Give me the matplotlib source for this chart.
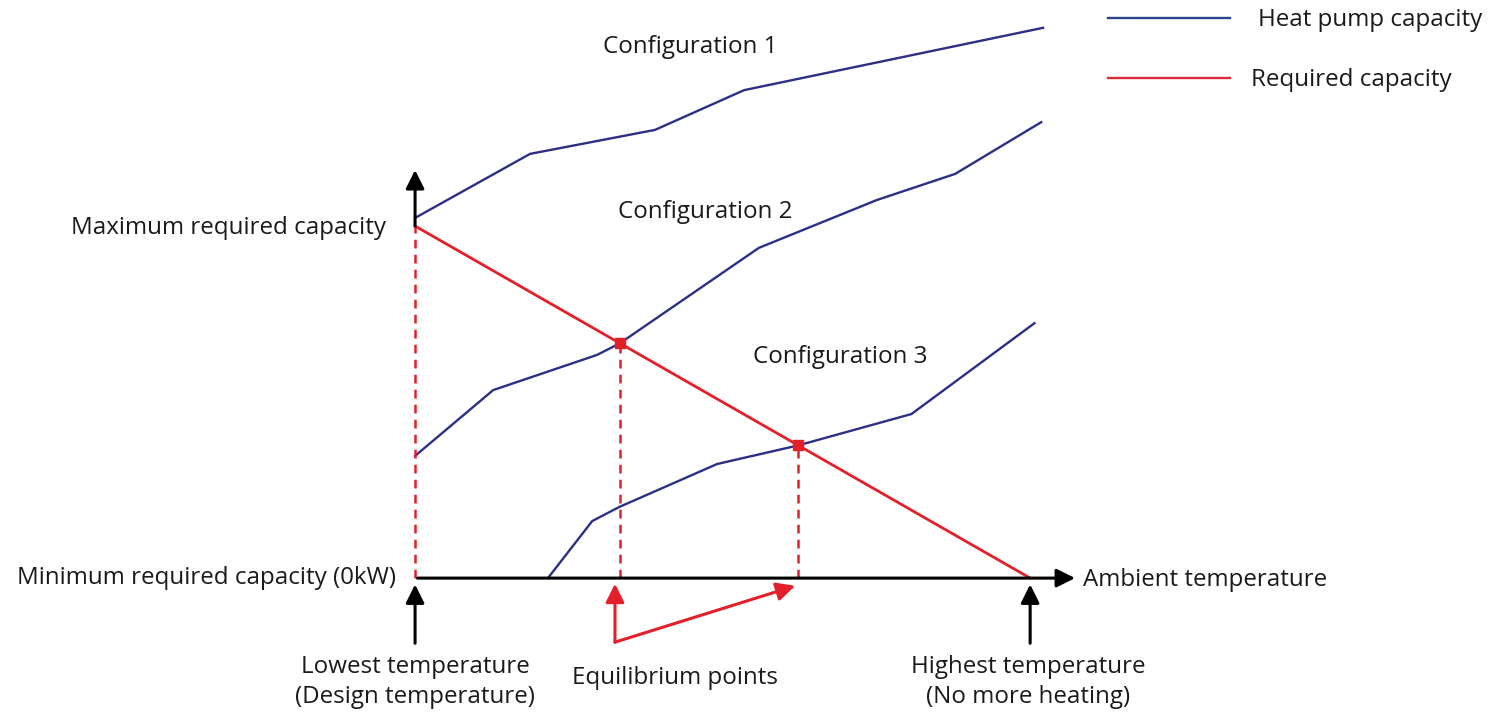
import matplotlib
matplotlib.use("Agg")
import matplotlib.pyplot as plt

# temperature axis: 0 = lowest (design) temp, 100 = highest temp (no heating)
# capacity axis: 0 = 0 kW, 100 = maximum required capacity
config1_t = [0, 18.7, 39.0, 53.5, 102.1]
config1_c = [102.3, 120.5, 127.3, 138.6, 156.3]

config2_t = [0, 12.7, 29.6, 33.3, 55.9, 75.1, 87.8, 101.8]
config2_c = [34.7, 53.4, 63.4, 66.7, 93.8, 107.4, 114.8, 129.5]

config3_t = [21.6, 28.8, 33.2, 49.1, 62.3, 80.7, 100.7]
config3_c = [0, 16.2, 20.2, 32.4, 37.7, 46.6, 72.4]

required_t = [0, 100]
required_c = [100, 0]

equilibrium_t = [33.3, 62.3]
equilibrium_c = [66.7, 37.7]

labels = ["Configuration 1", "Configuration 2", "Configuration 3"]
legend_labels = ["Heat pump capacity", "Required capacity"]

BLUE = "#2b2f86"
RED = "#e3202a"
FONT = "Open Sans"
FS = 17.4


def arrow(ax, start, end, color, lw=2.0, scale=28):
    ax.annotate("", xy=end, xytext=start,
                arrowprops=dict(arrowstyle="-|>", color=color, lw=lw,
                                mutation_scale=scale, shrinkA=0, shrinkB=0))


def label(ax, x, y, s, ha="center", **kw):
    ax.text(x, y, s, ha=ha, va="center", fontsize=FS, family=FONT,
            color="#1a1a1a", **kw)


def main():
    fig = plt.figure(figsize=(14.89, 7.14), dpi=100)
    ax = fig.add_axes([0, 0, 1, 1])
    ax.set_xlim(-67.48, 174.6)
    ax.set_ylim(-38.6, 164.2)
    ax.axis("off")

    # heat pump curves
    for t, c in [(config1_t, config1_c), (config2_t, config2_c), (config3_t, config3_c)]:
        ax.plot(t, c, color=BLUE, lw=1.7)

    # required capacity
    ax.plot(required_t, required_c, color=RED, lw=2.0)

    # dashed drop lines
    ax.plot([0, 0], [0, required_c[0]], color=RED, lw=1.8, ls=(0, (3.5, 2.5)))
    for t, c in zip(equilibrium_t, equilibrium_c):
        ax.plot([t, t], [0, c], color=RED, lw=1.8, ls=(0, (3.5, 2.5)))
    ax.plot(equilibrium_t, equilibrium_c, "s", color=RED, ms=7)

    # axes
    arrow(ax, (0.4, 0), (107.3, 0), "black", lw=2.2)
    arrow(ax, (0, required_c[0]), (0, 115.9), "black", lw=2.2)

    # temperature pointers
    arrow(ax, (0, -18.5), (0, -1.8), "black", lw=2.2)
    arrow(ax, (100, -18.5), (100, -1.8), "black", lw=2.2)

    # equilibrium pointers
    arrow(ax, (32.5, -18.2), (32.5, -1.6), RED, lw=2.2)
    arrow(ax, (32.5, -18.2), (61.8, -2.2), RED, lw=2.2)

    # text
    label(ax, 44.7, 150.9, labels[0])
    label(ax, 47.2, 104.0, labels[1])
    label(ax, 69.1, 62.8, labels[2])

    label(ax, -4.7, 99.4, "Maximum required capacity", ha="right")
    label(ax, -3.1, 0, "Minimum required capacity (0kW)", ha="right")
    label(ax, 108.6, -0.6, "Ambient temperature", ha="left")
    label(ax, 0, -29.5, "Lowest temperature\n(Design temperature)", linespacing=1.3)
    label(ax, 42.3, -28.4, "Equilibrium points")
    label(ax, 99.7, -29.5, "Highest temperature\n(No more heating)", linespacing=1.3)

    # legend
    ax.plot([112.7, 132.5], [159.1, 159.1], color="#2a4488", lw=1.7)
    label(ax, 137.1, 158.5, legend_labels[0], ha="left")
    ax.plot([112.7, 132.5], [142.0, 142.0], color="#d92b3a", lw=1.7)
    label(ax, 135.9, 141.5, legend_labels[1], ha="left")

    fig.savefig("out.png", dpi=100, facecolor="white")


if __name__ == "__main__":
    main()
